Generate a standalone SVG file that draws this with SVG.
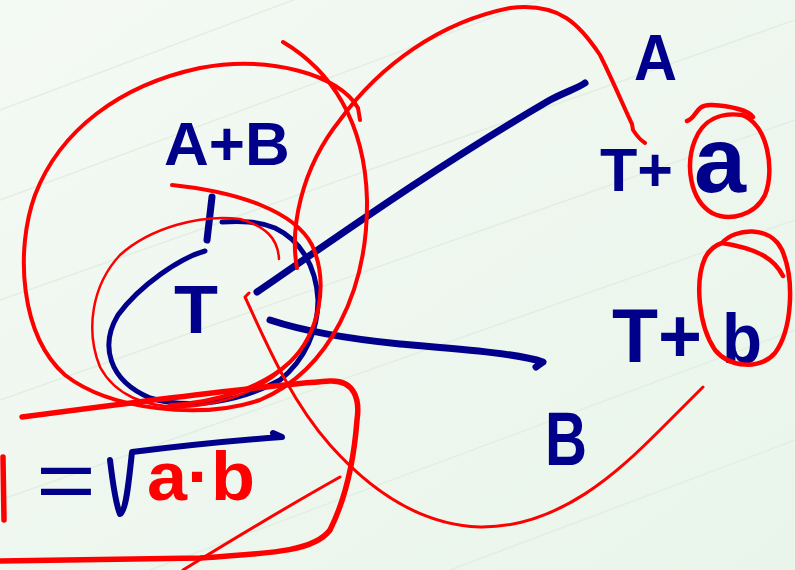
<svg xmlns="http://www.w3.org/2000/svg" width="795" height="570" viewBox="0 0 795 570">
<defs>
<linearGradient id="bg" x1="0" y1="0" x2="1" y2="1">
<stop offset="0" stop-color="#f4f9f4"/>
<stop offset="1" stop-color="#e9f5ea"/>
</linearGradient>
</defs>
<style>
.b{fill:none;stroke:#00008b;stroke-linecap:round;stroke-linejoin:round}
.r{fill:none;stroke:#ff0000;stroke-linecap:round;stroke-linejoin:round}
.tb{font-family:"Liberation Sans",Arial,sans-serif;font-weight:bold;fill:#00008b}
.tn{font-family:"Liberation Sans",Arial,sans-serif;font-weight:normal;fill:#00008b}
.tr{font-family:"Liberation Sans",Arial,sans-serif;font-weight:bold;fill:#ff0000}
.g{stroke:#e3eee3;stroke-width:1.5;fill:none}
</style>
<rect width="795" height="570" fill="url(#bg)"/>
<g id="paper-lines">
<path class="g" d="M0,110 L400,-40 M0,200 L620,-30 M0,300 L795,20 M0,400 L795,120 M0,500 L795,220 M150,570 L795,330 M450,570 L795,440"/>
</g>

<g id="blue-circle">
<path class="b" stroke-width="5" d="M205,251 C180,258 140,285 118,315 C100,345 108,380 150,398 C190,410 240,402 280,380 C305,360 318,330 318,300 C316,265 300,240 275,228 C258,221 240,221 222,222"/>
<path class="b" stroke-width="7" d="M212,197 L207,240"/>
</g>

<g id="connectors">
<path class="b" stroke-width="7" d="M257,292 C330,242 430,170 550,100 C565,92 578,88 585,83"/>
<path class="b" stroke-width="7" d="M270,320 C300,330 340,338 400,344 C470,350 520,354 543,362 L536,367"/>
</g>

<g id="node-AB"><text class="tb" x="164" y="165" font-size="62">A+B</text></g>
<g id="node-T"><text class="tb" x="174" y="333" font-size="68" textLength="44" lengthAdjust="spacingAndGlyphs">T</text></g>
<g id="node-A"><text class="tb" x="634" y="80" font-size="64" textLength="43" lengthAdjust="spacingAndGlyphs">A</text></g>
<g id="node-Ta">
<text class="tb" x="600" y="191" font-size="62" textLength="73" lengthAdjust="spacingAndGlyphs">T+</text>
<text class="tb" x="694" y="192" font-size="92" textLength="52" lengthAdjust="spacingAndGlyphs">a</text>
</g>
<g id="node-Tb">
<text class="tb" x="612" y="362" font-size="76" textLength="90" lengthAdjust="spacingAndGlyphs">T+</text>
<text class="tb" x="722" y="363" font-size="70" textLength="40" lengthAdjust="spacingAndGlyphs">b</text>
</g>
<g id="node-B"><text class="tb" x="545" y="465" font-size="76" textLength="42" lengthAdjust="spacingAndGlyphs">B</text></g>
<g id="node-formula">
<text class="tn" x="36" y="509" font-size="86" textLength="60" lengthAdjust="spacingAndGlyphs">=</text>
<path class="b" stroke-width="6" d="M110,460 C113,485 116,505 120,514 C126,512 129,480 132,452 C180,446 240,440 282,437 L273,433"/>
<text class="tr" x="147" y="500" font-size="68" textLength="108" lengthAdjust="spacingAndGlyphs">a·b</text>
</g>

<g id="red-annotations">
<path class="r" stroke-width="4" d="M283,42 C330,70 365,120 367,200 C368,290 330,370 260,400 C200,420 110,410 65,375 C20,335 15,250 35,195 C60,130 120,85 200,68 C270,55 340,75 358,108 L360,120"/>
<path class="r" stroke-width="4" d="M172,185 C240,192 295,212 312,245 C330,285 318,335 290,362 C262,388 215,403 170,405"/>
<path class="r" stroke-width="2.5" d="M279,259 C278,238 265,226 240,219 C200,214 150,228 120,255 C92,285 85,330 100,367 C115,395 145,407 180,407 C230,405 275,385 300,350 C315,330 320,310 320,295"/>
<path class="r" stroke-width="3" d="M249,293 L245,297 C265,340 290,400 330,445 C370,490 420,525 480,527 C560,528 620,470 660,430 L703,387"/>
<path class="r" stroke-width="4" d="M297,268 C290,230 300,170 340,120 C380,65 440,22 510,8 C560,2 580,25 600,55 C615,85 625,110 632,124 L633,130 C637,136 640,140 645,143"/>
<path class="r" stroke-width="5.5" d="M22,417 C150,400 270,385 330,381 C355,380 360,400 357,420 C354,460 345,500 330,530 C315,550 280,553 200,558 L0,561"/>
<path class="r" stroke-width="5.5" d="M3,457 L4,520"/>
<path class="r" stroke-width="3" d="M340,477 C290,505 240,535 183,570"/>
<path class="r" stroke-width="4.5" d="M687,121 C697,118 695,104 712,105 C730,106 748,110 753,117 M742,115 C768,125 775,170 765,195 C755,215 730,222 712,213 C690,200 685,165 695,140 C703,120 720,112 742,115"/>
<path class="r" stroke-width="4.5" d="M783,276 C775,260 760,249 722,243 C735,228 770,225 782,250 C795,280 792,330 775,353 C760,370 730,368 715,350 C698,325 695,280 705,258 C710,248 716,245 722,243"/>
</g>
</svg>
